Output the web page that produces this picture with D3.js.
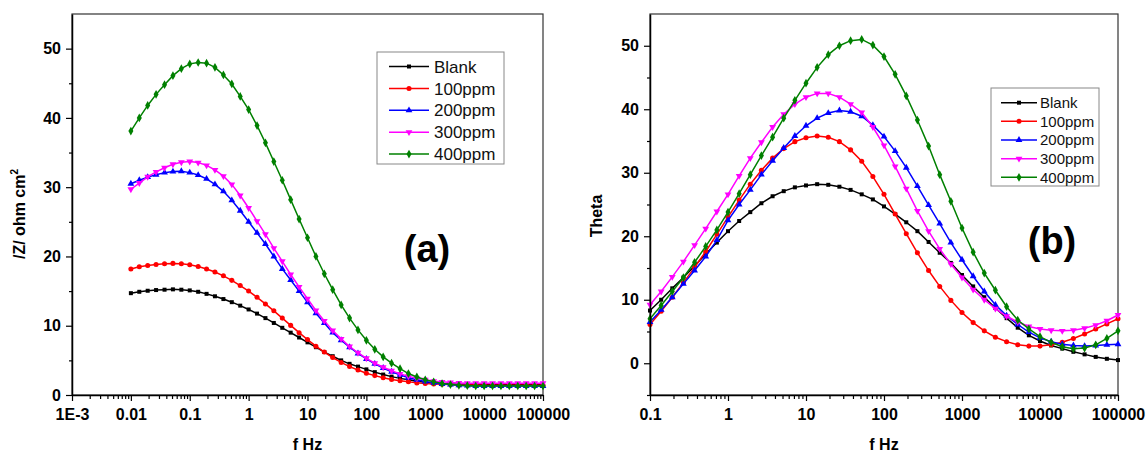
<!DOCTYPE html>
<html lang="en">
<head>
  <meta charset="utf-8" />
  <title>Bode plots |Z| and Theta</title>
  <script src="https://cdnjs.cloudflare.com/ajax/libs/d3/7.8.5/d3.min.js"></script>
  <style>
    body { margin: 0; background: #fff; }
    svg { display: block; font-family: "Liberation Sans", Arial, sans-serif; }
  </style>
</head>
<body>
<svg id="chart" width="1148" height="453"></svg>
<script>
  const seriesNames = ["Blank", "100ppm", "200ppm", "300ppm", "400ppm"];

  // frequencies, 7 points per decade
  const freqZ = [
    0.01, 0.0139, 0.0193, 0.0268, 0.0373, 0.0518, 0.072,
    0.1, 0.139, 0.193, 0.268, 0.373, 0.518, 0.72,
    1, 1.39, 1.93, 2.68, 3.73, 5.18, 7.2,
    10, 13.9, 19.3, 26.8, 37.3, 51.8, 72,
    100, 139, 193, 268, 373, 518, 720,
    1000, 1390, 1930, 2680, 3730, 5180, 7200,
    10000, 13900, 19300, 26800, 37300, 51800, 72000,
    100000
  ];
  const freqTheta = [
    0.1, 0.139, 0.193, 0.268, 0.373, 0.518, 0.72,
    1, 1.39, 1.93, 2.68, 3.73, 5.18, 7.2,
    10, 13.9, 19.3, 26.8, 37.3, 51.8, 72,
    100, 139, 193, 268, 373, 518, 720,
    1000, 1390, 1930, 2680, 3730, 5180, 7200,
    10000, 13900, 19300, 26800, 37300, 51800, 72000,
    100000
  ];

  // |Z| (ohm cm2)
  const zBlank = [
    14.7, 14.9, 15.05, 15.15, 15.2, 15.25, 15.2,
    15.1, 14.9, 14.6, 14.25, 13.85, 13.4, 12.9,
    12.35, 11.75, 11.1, 10.4, 9.7, 9.0, 8.3,
    7.6, 6.9, 6.2, 5.6, 5.0, 4.5, 4.1,
    3.7, 3.3, 2.95, 2.65, 2.4, 2.2, 2.0,
    1.85, 1.75, 1.65, 1.6, 1.55, 1.55, 1.5,
    1.5, 1.5, 1.5, 1.5, 1.5, 1.5, 1.5,
    1.5
  ];
  const z100 = [
    18.2, 18.5, 18.7, 18.85, 18.95, 19.0, 18.95,
    18.8, 18.55, 18.2, 17.75, 17.2, 16.55, 15.8,
    15.0, 14.1, 13.15, 12.15, 11.1, 10.05, 9.0,
    8.0, 7.05, 6.2, 5.4, 4.7, 4.1, 3.6,
    3.15, 2.8, 2.5, 2.25, 2.05, 1.9, 1.75,
    1.65, 1.6, 1.55, 1.5, 1.45, 1.45, 1.45,
    1.4, 1.4, 1.4, 1.4, 1.4, 1.4, 1.4,
    1.4
  ];
  const z200 = [
    30.5, 31.0, 31.45, 31.8, 32.1, 32.25, 32.3,
    32.1, 31.75, 31.2, 30.4, 29.4, 28.1, 26.6,
    25.0, 23.4, 21.8, 20.0, 18.2, 16.6, 15.0,
    13.4, 11.8, 10.4, 9.0, 7.9, 6.9, 6.0,
    5.2, 4.5, 3.9, 3.35, 2.9, 2.5, 2.2,
    1.95, 1.75, 1.6, 1.5, 1.4, 1.35, 1.3,
    1.3, 1.3, 1.3, 1.3, 1.3, 1.3, 1.3,
    1.3
  ];
  const z300 = [
    29.7, 30.6, 31.5, 32.2, 32.8, 33.3, 33.6,
    33.7, 33.55, 33.15, 32.5, 31.6, 30.4, 28.8,
    27.0, 25.1, 23.2, 21.2, 19.3, 17.4, 15.6,
    13.9, 12.2, 10.7, 9.3, 8.1, 7.0, 6.1,
    5.3, 4.6, 4.0, 3.5, 3.05, 2.7, 2.4,
    2.2, 2.0, 1.9, 1.8, 1.75, 1.7, 1.7,
    1.7, 1.7, 1.7, 1.7, 1.7, 1.7, 1.7,
    1.7
  ];
  const z400 = [
    38.1, 40.0, 41.8, 43.4, 44.8, 46.1, 47.1,
    47.8, 48.0, 47.9, 47.3, 46.2, 44.9, 43.1,
    41.2, 38.9, 36.4, 33.7, 31.0, 28.2, 25.4,
    22.7, 20.0, 17.5, 15.2, 13.0, 11.1, 9.4,
    7.9, 6.6, 5.5, 4.6, 3.8, 3.1, 2.6,
    2.2, 1.9, 1.65, 1.5, 1.4, 1.35, 1.3,
    1.3, 1.3, 1.3, 1.3, 1.3, 1.3, 1.3,
    1.3
  ];

  // phase angle
  const thetaBlank = [
    8.3, 10.0, 11.8, 13.5, 15.3, 17.2, 19.0,
    20.8, 22.4, 23.8, 25.2, 26.3, 27.1, 27.7,
    28.0, 28.2, 28.1, 27.8, 27.3, 26.6, 25.8,
    24.7, 23.5, 22.2, 20.8, 19.1, 17.4, 15.8,
    13.9, 12.1, 10.4, 8.7, 7.1, 5.6, 4.4,
    3.5, 2.8, 2.3, 1.8, 1.4, 1.0, 0.7,
    0.5
  ];
  const theta100 = [
    6.1, 8.2, 10.4, 12.7, 15.1, 17.6, 20.3,
    23.0, 25.7, 28.2, 30.4, 32.3, 33.8, 34.9,
    35.5, 35.8, 35.6, 34.9, 33.6, 31.8, 29.4,
    26.6, 23.5, 20.4, 17.4, 14.6, 12.1, 9.9,
    8.0, 6.4, 5.1, 4.1, 3.4, 2.9, 2.7,
    2.7, 2.9, 3.3, 3.9, 4.6, 5.4, 6.2,
    7.0
  ];
  const theta200 = [
    6.5, 8.4, 10.4, 12.5, 14.6, 16.8, 19.4,
    22.5, 25.0, 27.3, 29.7, 31.9, 33.9, 35.8,
    37.4, 38.6, 39.4, 39.8, 39.6, 38.9, 37.5,
    35.7, 33.4, 30.8, 27.9, 24.9, 22.0, 19.0,
    16.3, 13.7, 11.3, 9.2, 7.5, 6.1, 4.9,
    4.0, 3.4, 3.0, 2.8, 2.7, 2.8, 2.9,
    3.0
  ];
  const theta300 = [
    9.2, 11.3, 13.6, 16.0, 18.6, 21.2, 23.9,
    26.6, 29.5, 32.3, 34.8, 37.2, 39.2, 40.8,
    41.9, 42.5, 42.5, 41.9, 40.8, 39.5, 37.2,
    34.3, 31.0, 27.5, 24.0, 20.8, 18.0, 15.6,
    13.5, 11.6, 10.0, 8.6, 7.4, 6.5, 5.8,
    5.4, 5.2, 5.1, 5.2, 5.5, 6.0, 6.7,
    7.6
  ];
  const theta400 = [
    7.0, 9.1, 11.3, 13.5, 15.9, 18.4, 21.0,
    23.8, 26.7, 29.7, 32.7, 35.6, 38.6, 41.4,
    44.1, 46.6, 48.6, 50.0, 50.8, 51.0, 50.1,
    48.3, 45.5, 42.1, 38.3, 34.2, 29.7, 25.5,
    21.3, 17.5, 14.2, 11.5, 8.9, 6.8, 5.4,
    4.2, 3.3, 2.6, 2.3, 2.4, 2.9, 3.9,
    5.1
  ];

  // tick values and labels
  const xTicksZ = [0.001, 0.01, 0.1, 1, 10, 100, 1000, 10000, 100000];
  const xLabelsZ = ["1E-3", "0.01", "0.1", "1", "10", "100", "1000", "10000", "100000"];
  const xTicksTheta = [0.1, 1, 10, 100, 1000, 10000, 100000];
  const xLabelsTheta = ["0.1", "1", "10", "100", "1000", "10000", "100000"];
  const yTicksZ = [0, 10, 20, 30, 40, 50];
  const yMinorZ = [5, 15, 25, 35, 45];
  const yTicksTheta = [0, 10, 20, 30, 40, 50];
  const yMinorTheta = [-5, 5, 15, 25, 35, 45];

  const colors = ["#000000", "#ff0000", "#0000ff", "#ff00ff", "#008000"];
  const symbols = [d3.symbolSquare, d3.symbolCircle, d3.symbolTriangle, d3.symbolTriangle, d3.symbolDiamond];
  const symbolRotate = [0, 0, 0, 180, 0];
  const symbolSize = [16, 20, 20, 20, 22];

  const svg = d3.select("#chart");
  svg.append("rect").attr("width", 1148).attr("height", 453).attr("fill", "#fff");

  function styleAxis(sel, fontSize) {
    sel.attr("font-size", fontSize)
      .attr("font-weight", "bold")
      .attr("font-family", "'Liberation Sans', Arial, sans-serif");
    sel.selectAll("text").attr("fill", "#000");
    sel.selectAll("line").attr("stroke", "#000").attr("stroke-width", 1.2);
    sel.select(".domain").attr("stroke", "#000").attr("stroke-width", 1.5);
  }

  function drawPanel(cfg) {
    const x = d3.scaleLog().domain(cfg.xDomain).range([cfg.left, cfg.right]);
    const y = d3.scaleLinear().domain(cfg.yDomain).range([cfg.bottom, cfg.top]);
    const g = svg.append("g");

    // box
    g.append("rect")
      .attr("x", cfg.left).attr("y", cfg.top)
      .attr("width", cfg.right - cfg.left).attr("height", cfg.bottom - cfg.top)
      .attr("fill", "none").attr("stroke", "#333").attr("stroke-width", 1.2);

    // curves + markers
    cfg.series.forEach(function(vals, i) {
      const pts = cfg.freq.map((f, j) => [f, vals[j]]);
      g.append("path")
        .datum(pts)
        .attr("fill", "none")
        .attr("stroke", colors[i])
        .attr("stroke-width", 1.5)
        .attr("d", d3.line().x(d => x(d[0])).y(d => y(d[1])));
      g.selectAll(null)
        .data(pts)
        .enter()
        .append("path")
        .attr("transform", d => "translate(" + x(d[0]) + "," + y(d[1]) + ") rotate(" + symbolRotate[i] + ")")
        .attr("d", d3.symbol().type(symbols[i]).size(symbolSize[i]))
        .attr("fill", colors[i]);
    });

    // y axis
    g.append("g")
      .attr("transform", "translate(" + cfg.left + ",0)")
      .call(d3.axisLeft(y).tickValues(cfg.yTicks).tickSize(6).tickSizeOuter(0).tickPadding(5).tickFormat(d3.format("d")))
      .call(styleAxis, 16);
    g.append("g")
      .attr("transform", "translate(" + cfg.left + ",0)")
      .call(d3.axisLeft(y).tickValues(cfg.yMinor).tickSize(3).tickFormat(""))
      .call(styleAxis, 16)
      .select(".domain").remove();

    // x axis
    g.append("g")
      .attr("transform", "translate(0," + cfg.bottom + ")")
      .call(d3.axisBottom(x).tickValues(cfg.xTicks).tickSize(6).tickSizeOuter(0).tickPadding(8)
        .tickFormat((d, i) => cfg.xLabels[i]))
      .call(styleAxis, 16);
    const minorX = x.ticks(30).filter(t => Math.abs(Math.log10(t) - Math.round(Math.log10(t))) > 1e-6);
    g.append("g")
      .attr("transform", "translate(0," + cfg.bottom + ")")
      .call(d3.axisBottom(x).tickValues(minorX).tickSize(4).tickFormat(""))
      .call(styleAxis, 16)
      .select(".domain").remove();

    // axis titles
    g.append("text")
      .attr("x", (cfg.left + cfg.right) / 2)
      .attr("y", 450)
      .attr("text-anchor", "middle")
      .attr("font-size", 16)
      .attr("font-weight", "bold")
      .text("f Hz");

    const yl = g.append("text")
      .attr("transform", "translate(" + cfg.yLabelX + "," + cfg.yLabelY + ") rotate(-90)")
      .attr("text-anchor", "middle")
      .attr("font-size", 16)
      .attr("font-weight", "bold")
      .text(cfg.yLabel);
    if (cfg.yLabelSup) {
      yl.append("tspan").attr("dy", -7).attr("font-size", 10).text(cfg.yLabelSup);
    }

    // panel tag
    g.append("text")
      .attr("x", cfg.tagX).attr("y", cfg.tagY)
      .attr("text-anchor", "middle")
      .attr("font-size", 38)
      .attr("font-weight", "bold")
      .text(cfg.tag);

    // legend
    const lg = cfg.legend;
    g.append("rect")
      .attr("x", lg.x).attr("y", lg.y).attr("width", lg.w).attr("height", lg.h)
      .attr("fill", "#fff").attr("stroke", "#888").attr("stroke-width", 1);
    seriesNames.forEach(function(name, i) {
      const ry = lg.firstRow + i * lg.rowH;
      g.append("line")
        .attr("x1", lg.lineX1).attr("x2", lg.lineX2).attr("y1", ry).attr("y2", ry)
        .attr("stroke", colors[i]).attr("stroke-width", 1.5);
      g.append("path")
        .attr("transform", "translate(" + (lg.lineX1 + lg.lineX2) / 2 + "," + ry + ") rotate(" + symbolRotate[i] + ")")
        .attr("d", d3.symbol().type(symbols[i]).size(symbolSize[i]))
        .attr("fill", colors[i]);
      g.append("text")
        .attr("x", lg.textX).attr("y", ry)
        .attr("dy", "0.36em")
        .attr("font-size", lg.fontSize)
        .attr("fill", "#111")
        .text(name);
    });
  }

  drawPanel({
    left: 72, right: 543, top: 14, bottom: 395,
    xDomain: [0.001, 100000], yDomain: [0, 55],
    freq: freqZ,
    series: [zBlank, z100, z200, z300, z400],
    xTicks: xTicksZ, xLabels: xLabelsZ,
    yTicks: yTicksZ, yMinor: yMinorZ,
    yLabel: "/Z/ ohm cm", yLabelSup: "2", yLabelX: 25, yLabelY: 214,
    tag: "(a)", tagX: 427, tagY: 262,
    legend: { x: 377, y: 52, w: 127, h: 112, firstRow: 66.5, rowH: 21.9,
              lineX1: 389, lineX2: 429, textX: 434, fontSize: 17 }
  });

  drawPanel({
    left: 650, right: 1118, top: 14, bottom: 395,
    xDomain: [0.1, 100000], yDomain: [-5, 55],
    freq: freqTheta,
    series: [thetaBlank, theta100, theta200, theta300, theta400],
    xTicks: xTicksTheta, xLabels: xLabelsTheta,
    yTicks: yTicksTheta, yMinor: yMinorTheta,
    yLabel: "Theta", yLabelX: 602, yLabelY: 216,
    tag: "(b)", tagX: 1052, tagY: 254,
    legend: { x: 991, y: 88, w: 108, h: 98, firstRow: 102.7, rowH: 18.65,
              lineX1: 1001, lineX2: 1037, textX: 1040, fontSize: 15 }
  });
</script>
</body>
</html>
